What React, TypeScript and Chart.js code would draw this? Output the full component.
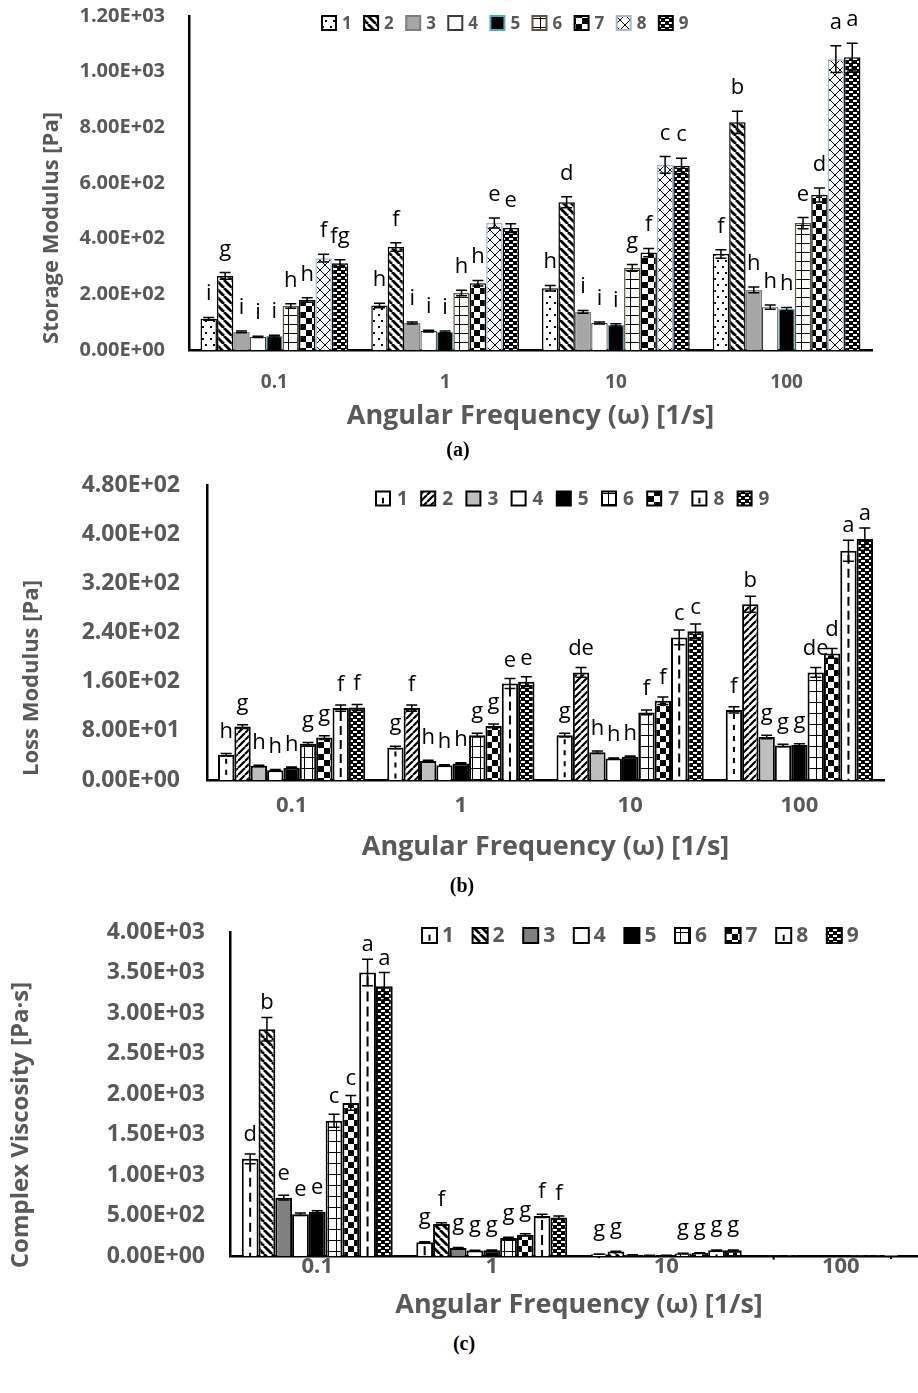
import React, { useEffect, useRef } from 'react';
import { Chart, registerables } from 'chart.js';

Chart.register(...registerables);
Chart.defaults.font.family = 'Open Sans';

// ---------- data ----------
const frequencies = ['0.1', '1', '10', '100'];
const seriesNames = ['1', '2', '3', '4', '5', '6', '7', '8', '9'];

const storageTickLabels = ['0.00E+00', '2.00E+02', '4.00E+02', '6.00E+02', '8.00E+02', '1.00E+03', '1.20E+03'];
const lossTickLabels = ['0.00E+00', '8.00E+01', '1.60E+02', '2.40E+02', '3.20E+02', '4.00E+02', '4.80E+02'];
const viscosityTickLabels = ['0.00E+00', '5.00E+02', '1.00E+03', '1.50E+03', '2.00E+03', '2.50E+03', '3.00E+03', '3.50E+03', '4.00E+03'];

// one row per sample 1..9, columns follow frequencies
const storageValues = [
  [112, 160, 222, 345],
  [266, 370, 531, 818],
  [65, 97, 137, 216],
  [47, 68, 97, 154],
  [50, 65, 90, 147],
  [158, 205, 295, 456],
  [180, 240, 350, 557],
  [330, 456, 665, 1045],
  [312, 438, 661, 1052],
];
const storageErrors = [
  [5, 8, 10, 15],
  [12, 15, 20, 40],
  [3, 4, 5, 10],
  [2, 3, 4, 8],
  [3, 3, 4, 6],
  [8, 10, 12, 20],
  [8, 10, 15, 25],
  [14, 18, 30, 48],
  [12, 16, 28, 50],
];
const storageLetters = [
  ['i', 'h', 'h', 'f'],
  ['g', 'f', 'd', 'b'],
  ['i', 'i', 'i', 'h'],
  ['i', 'i', 'i', 'h'],
  ['i', 'i', 'i', 'h'],
  ['h', 'h', 'g', 'e'],
  ['h', 'h', 'f', 'd'],
  ['f', 'e', 'c', 'a'],
  ['fg', 'e', 'c', 'a'],
];

const lossValues = [
  [41, 53, 73, 114],
  [87, 117, 175, 286],
  [23, 31, 45, 70],
  [16, 24, 35, 56],
  [20, 27, 38, 57],
  [59, 73, 110, 175],
  [69, 88, 129, 206],
  [117, 157, 232, 373],
  [118, 160, 242, 392],
];
const lossErrors = [
  [2, 2, 3, 5],
  [3, 5, 8, 13],
  [1, 1, 2, 3],
  [1, 1, 1, 2],
  [1, 1, 1, 2],
  [2, 3, 4, 8],
  [3, 3, 6, 8],
  [5, 8, 12, 17],
  [5, 8, 12, 18],
];
const lossLetters = [
  ['h', 'g', 'g', 'f'],
  ['g', 'f', 'de', 'b'],
  ['h', 'h', 'h', 'g'],
  ['h', 'h', 'h', 'g'],
  ['h', 'h', 'h', 'g'],
  ['g', 'g', 'f', 'de'],
  ['g', 'g', 'f', 'd'],
  ['f', 'e', 'c', 'a'],
  ['f', 'e', 'c', 'a'],
];

const viscosityValues = [
  [1200, 169, 23, 4],
  [2800, 395, 55, 9],
  [720, 100, 14, 2],
  [515, 68, 10, 2],
  [545, 72, 10, 2],
  [1670, 222, 31, 5],
  [1890, 262, 37, 6],
  [3500, 495, 70, 11],
  [3330, 475, 70, 11],
];
const viscosityErrors = [
  [60, 8, 1, 0],
  [145, 15, 3, 0],
  [30, 5, 1, 0],
  [15, 3, 0.5, 0],
  [15, 3, 0.5, 0],
  [80, 10, 2, 0],
  [90, 12, 2, 0],
  [165, 20, 4, 0],
  [170, 20, 4, 0],
];
const viscosityLetters = [
  ['d', 'g', 'g', ''],
  ['b', 'f', 'g', ''],
  ['e', 'g', '', ''],
  ['e', 'g', '', ''],
  ['e', 'g', '', ''],
  ['c', 'g', 'g', ''],
  ['c', 'g', 'g', ''],
  ['a', 'f', 'g', ''],
  ['a', 'f', 'g', ''],
];

// ---------- patterns ----------
function tile(w: number, h: number, draw: (g: CanvasRenderingContext2D) => void) {
  const c = document.createElement('canvas');
  c.width = w;
  c.height = h;
  const g = c.getContext('2d') as CanvasRenderingContext2D;
  draw(g);
  return c;
}

function makePatterns(ctx: CanvasRenderingContext2D) {
  const mk = (w: number, h: number, draw: (g: CanvasRenderingContext2D) => void) =>
    ctx.createPattern(tile(w, h, draw), 'repeat') as CanvasPattern;
  const bg = (g: CanvasRenderingContext2D, w: number, h: number, c: string) => {
    g.fillStyle = c;
    g.fillRect(0, 0, w, h);
  };
  return {
    dots: mk(8, 12, (g) => {
      bg(g, 8, 12, '#fff');
      g.fillStyle = '#000';
      g.fillRect(2, 2, 2, 2);
      g.fillRect(5, 8, 2, 2);
    }),
    diagDown: mk(8, 8, (g) => {
      bg(g, 8, 8, '#fff');
      g.strokeStyle = '#000';
      g.lineWidth = 2.8;
      g.beginPath();
      for (const o of [-8, 0, 8]) {
        g.moveTo(o, 0);
        g.lineTo(o + 8, 8);
      }
      g.stroke();
    }),
    diagUp: mk(7, 7, (g) => {
      bg(g, 7, 7, '#fff');
      g.strokeStyle = '#000';
      g.lineWidth = 2.2;
      g.beginPath();
      for (const o of [-7, 0, 7]) {
        g.moveTo(o, 7);
        g.lineTo(o + 7, 0);
      }
      g.stroke();
    }),
    gridA: mk(9, 9, (g) => {
      bg(g, 9, 9, '#fff');
      g.fillStyle = '#000';
      g.fillRect(0, 0, 9, 1);
      g.fillRect(0, 0, 1, 9);
    }),
    gridB: mk(8, 11, (g) => {
      bg(g, 8, 11, '#fff');
      g.fillStyle = '#000';
      g.fillRect(0, 0, 8, 1);
      g.fillRect(0, 0, 1, 11);
    }),
    checker: mk(12, 12, (g) => {
      bg(g, 12, 12, '#fff');
      g.fillStyle = '#000';
      g.fillRect(0, 0, 6, 6);
      g.fillRect(6, 6, 6, 6);
    }),
    cross: mk(10, 10, (g) => {
      bg(g, 10, 10, '#fff');
      g.strokeStyle = '#000';
      g.lineWidth = 1;
      g.beginPath();
      g.moveTo(0, 0);
      g.lineTo(10, 10);
      g.moveTo(0, 10);
      g.lineTo(10, 0);
      g.stroke();
    }),
    brick: mk(8, 6, (g) => {
      bg(g, 8, 6, '#000');
      g.fillStyle = '#fff';
      g.fillRect(1, 1, 4, 2);
      g.fillRect(5, 4, 3, 2);
      g.fillRect(0, 4, 1, 2);
    }),
  };
}

type Pats = ReturnType<typeof makePatterns>;
type Sty = { bg: any; border: string; bw: number; dash?: number[] };

// ---------- plugins ----------
const patternLegend = {
  id: 'patternLegend',
  afterDraw(chart: any, _a: any, o: any) {
    const ctx = chart.ctx as CanvasRenderingContext2D;
    ctx.save();
    chart.data.datasets.forEach((ds: any, i: number) => {
      const x = o.x + i * o.step;
      const top = o.y - o.box / 2;
      ctx.fillStyle = ds.backgroundColor;
      ctx.fillRect(x, top, o.box, o.box);
      if (ds.centerDash) {
        ctx.fillStyle = '#000';
        ctx.fillRect(x + o.box / 2 - 1, top + o.box * 0.45, 2, o.box * 0.4);
      }
      ctx.lineWidth = 2;
      ctx.strokeStyle = ds.borderColor;
      ctx.strokeRect(x, top, o.box, o.box);
      ctx.fillStyle = o.color;
      ctx.font = o.font;
      ctx.textAlign = 'left';
      ctx.textBaseline = 'middle';
      ctx.fillText(ds.label, x + o.box + o.gap, o.y + 1);
    });
    ctx.restore();
  },
};

const axisTitle = {
  id: 'axisTitle',
  afterDraw(chart: any, _a: any, o: any) {
    const ctx = chart.ctx as CanvasRenderingContext2D;
    ctx.save();
    ctx.translate(o.x, o.y);
    ctx.rotate(-Math.PI / 2);
    ctx.font = o.font;
    ctx.fillStyle = o.color;
    ctx.textAlign = 'center';
    ctx.textBaseline = 'middle';
    ctx.fillText(o.text, 0, 0);
    ctx.restore();
  },
};

const annotations = {
  id: 'annotations',
  afterDatasetsDraw(chart: any, _a: any, o: any) {
    const ctx = chart.ctx as CanvasRenderingContext2D;
    const ys = chart.scales.y;
    ctx.save();
    chart.data.datasets.forEach((ds: any, di: number) => {
      const meta = chart.getDatasetMeta(di);
      meta.data.forEach((bar: any, i: number) => {
        const v = ds.data[i];
        const x = bar.x;
        if (ds.centerDash) {
          const tp = ys.getPixelForValue(v);
          const base = ys.getPixelForValue(0);
          ctx.strokeStyle = '#000';
          ctx.lineWidth = 2;
          ctx.setLineDash(ds.centerDash);
          ctx.beginPath();
          ctx.moveTo(x, tp + 4);
          ctx.lineTo(x, base);
          ctx.stroke();
          ctx.setLineDash([]);
        }
      });
    });
    chart.data.datasets.forEach((ds: any, di: number) => {
      const meta = chart.getDatasetMeta(di);
      meta.data.forEach((bar: any, i: number) => {
        const v = ds.data[i];
        const e = ds.errors[i];
        const x = bar.x;
        const yBar = ys.getPixelForValue(v);
        const yT = ys.getPixelForValue(v + e);
        if (e > 0) {
          const yB = ys.getPixelForValue(Math.max(0, v - e));
          ctx.strokeStyle = '#000';
          ctx.lineWidth = o.lw;
          ctx.beginPath();
          ctx.moveTo(x, yT);
          ctx.lineTo(x, yB);
          ctx.moveTo(x - o.cap, yT);
          ctx.lineTo(x + o.cap, yT);
          ctx.moveTo(x - o.cap, yB);
          ctx.lineTo(x + o.cap, yB);
          ctx.stroke();
        }
        const letter = ds.letters[i];
        if (letter) {
          ctx.fillStyle = '#000';
          ctx.font = o.font;
          ctx.textAlign = 'center';
          ctx.textBaseline = 'alphabetic';
          ctx.fillText(letter, x, Math.min(yBar - o.barGap, yT - o.errGap));
        }
      });
    });
    ctx.restore();
  },
};

// ---------- panels ----------
const GREY = '#595959';

type Spec = {
  top: number; w: number; h: number;
  pad: { left: number; top: number; right: number; bottom: number };
  yW: number; xH: number;
  max: number; step: number; tickLabels: string[];
  values: number[][]; errors: number[][]; letters: string[][];
  yTick: number; yTickPad: number;
  xTick: number; xTickPad: number; xTickLH: number;
  xTitle: number; xTitlePad: number;
  yTitle: { text: string; x: number; y: number; size: number };
  legend: { x: number; y: number; step: number; box: number; size: number; gap: number };
  catPct: number; axisW: number; barGap: number; errGap: number;
  styles: (p: Pats) => Sty[];
};

const specs: Spec[] = [
  {
    top: 0, w: 918, h: 440,
    pad: { left: 0, top: 16, right: 46, bottom: 0 },
    yW: 189, xH: 90,
    max: 1200, step: 200, tickLabels: storageTickLabels,
    values: storageValues, errors: storageErrors, letters: storageLetters,
    yTick: 20, yTickPad: 24,
    xTick: 19, xTickPad: 21, xTickLH: 1.2,
    xTitle: 27, xTitlePad: 7,
    yTitle: { text: 'Storage Modulus [Pa]', x: 52, y: 228, size: 22 },
    legend: { x: 322, y: 23, step: 42.1, box: 14, size: 17, gap: 6 },
    catPct: 0.865, axisW: 2.5, barGap: 18, errGap: 17,
    styles: (p) => [
      { bg: p.dots, border: '#000', bw: 1.5 },
      { bg: p.diagDown, border: '#000', bw: 1.5 },
      { bg: '#a6a6a6', border: '#7f7f7f', bw: 1.5 },
      { bg: '#ffffff', border: '#3a3a3a', bw: 1.2 },
      { bg: '#000000', border: '#4bacc6', bw: 1.2 },
      { bg: p.gridA, border: '#5b573a', bw: 1.5 },
      { bg: p.checker, border: '#000', bw: 1.5 },
      { bg: p.cross, border: '#a3b8d4', bw: 1.5 },
      { bg: p.brick, border: '#000', bw: 1.5 },
    ],
  },
  {
    top: 460, w: 918, h: 420,
    pad: { left: 0, top: 25, right: 34, bottom: 0 },
    yW: 207, xH: 100,
    max: 480, step: 80, tickLabels: lossTickLabels,
    values: lossValues, errors: lossErrors, letters: lossLetters,
    yTick: 23, yTickPad: 27,
    xTick: 22, xTickPad: 13, xTickLH: 1.2,
    xTitle: 27, xTitlePad: 16,
    yTitle: { text: 'Loss Modulus [Pa]', x: 32, y: 218, size: 22 },
    legend: { x: 376, y: 38.5, step: 45.2, box: 14, size: 19, gap: 7 },
    catPct: 0.87, axisW: 2.5, barGap: 17, errGap: 8,
    styles: (p) => [
      { bg: '#ffffff', border: '#000', bw: 2, dash: [5, 6] },
      { bg: p.diagUp, border: '#000', bw: 2 },
      { bg: '#bfbfbf', border: '#000', bw: 2 },
      { bg: '#ffffff', border: '#000', bw: 2 },
      { bg: '#000000', border: '#000', bw: 2 },
      { bg: p.gridB, border: '#000', bw: 2 },
      { bg: p.checker, border: '#000', bw: 2 },
      { bg: '#ffffff', border: '#000', bw: 2, dash: [9, 5] },
      { bg: p.brick, border: '#000', bw: 2 },
    ],
  },
  {
    top: 910, w: 950, h: 420,
    pad: { left: 0, top: 22, right: 22, bottom: 0 },
    yW: 230, xH: 74,
    max: 4000, step: 500, tickLabels: viscosityTickLabels,
    values: viscosityValues, errors: viscosityErrors, letters: viscosityLetters,
    yTick: 23, yTickPad: 25,
    xTick: 22, xTickPad: 0, xTickLH: 1,
    xTitle: 27, xTitlePad: 8,
    yTitle: { text: 'Complex Viscosity [Pa·s]', x: 21, y: 215, size: 24 },
    legend: { x: 422, y: 25.5, step: 50.6, box: 15, size: 21, gap: 5 },
    catPct: 0.865, axisW: 2.5, barGap: 18, errGap: 8,
    styles: (p) => [
      { bg: '#ffffff', border: '#000', bw: 2, dash: [9, 6] },
      { bg: p.diagDown, border: '#000', bw: 2 },
      { bg: '#808080', border: '#000', bw: 2 },
      { bg: '#ffffff', border: '#000', bw: 2 },
      { bg: '#000000', border: '#000', bw: 2 },
      { bg: p.gridB, border: '#000', bw: 2 },
      { bg: p.checker, border: '#000', bw: 2 },
      { bg: '#ffffff', border: '#000', bw: 2, dash: [10, 5] },
      { bg: p.brick, border: '#000', bw: 2 },
    ],
  },
];

function buildConfig(s: Spec, styles: Sty[]): any {
  return {
    type: 'bar',
    data: {
      labels: frequencies,
      datasets: seriesNames.map((name, i) => ({
        label: name,
        data: s.values[i],
        errors: s.errors[i],
        letters: s.letters[i],
        centerDash: styles[i].dash,
        backgroundColor: styles[i].bg,
        borderColor: styles[i].border,
        borderWidth: styles[i].bw,
        categoryPercentage: s.catPct,
        barPercentage: 1,
      })),
    },
    options: {
      animation: false,
      responsive: false,
      events: [],
      layout: { padding: s.pad },
      plugins: {
        legend: { display: false },
        tooltip: { enabled: false },
        patternLegend: {
          x: s.legend.x, y: s.legend.y, step: s.legend.step, box: s.legend.box, gap: s.legend.gap,
          font: `bold ${s.legend.size}px "Open Sans"`, color: GREY,
        },
        axisTitle: {
          text: s.yTitle.text, x: s.yTitle.x, y: s.yTitle.y,
          font: `bold ${s.yTitle.size}px "Open Sans"`, color: GREY,
        },
        annotations: { lw: 1.5, cap: 5.5, barGap: s.barGap, errGap: s.errGap, font: '22px "Open Sans"' },
      },
      scales: {
        x: {
          grid: { display: false, drawTicks: false },
          border: { display: true, color: '#000', width: s.axisW },
          ticks: {
            autoSkip: false, maxRotation: 0, color: GREY, padding: s.xTickPad,
            font: { family: 'Open Sans', weight: 'bold', size: s.xTick, lineHeight: s.xTickLH },
          },
          title: {
            display: true, text: 'Angular Frequency (ω) [1/s]', color: GREY,
            font: { family: 'Open Sans', weight: 'bold', size: s.xTitle, lineHeight: 1.2 },
            padding: { top: 0, bottom: s.xTitlePad },
          },
          afterFit: (sc: any) => {
            sc.height = s.xH;
            sc.paddingLeft = 0;
            sc.paddingRight = 0;
          },
        },
        y: {
          min: 0, max: s.max,
          grid: { display: false, drawTicks: false },
          border: { display: true, color: '#000', width: s.axisW },
          ticks: {
            stepSize: s.step, color: GREY, padding: s.yTickPad,
            font: { family: 'Open Sans', weight: 'bold', size: s.yTick },
            callback: (v: number) => s.tickLabels[Math.round(v / s.step)] ?? '',
          },
          afterFit: (sc: any) => {
            sc.width = s.yW;
            sc.paddingTop = 0;
            sc.paddingBottom = 0;
          },
        },
      },
    },
    plugins: [annotations, axisTitle, patternLegend],
  };
}

function Panel({ spec }: { spec: Spec }) {
  const ref = useRef<HTMLCanvasElement>(null);
  useEffect(() => {
    const canvas = ref.current as HTMLCanvasElement;
    const ctx = canvas.getContext('2d') as CanvasRenderingContext2D;
    const pats = makePatterns(ctx);
    const chart = new Chart(ctx, buildConfig(spec, spec.styles(pats)));
    return () => chart.destroy();
  }, []);
  return (
    <canvas
      ref={ref}
      width={spec.w}
      height={spec.h}
      style={{ position: 'absolute', left: 0, top: spec.top, width: spec.w, height: spec.h }}
    />
  );
}

const captions = [
  { text: '(a)', x: 458, y: 449 },
  { text: '(b)', x: 462, y: 885 },
  { text: '(c)', x: 464, y: 1343 },
];

export default function App() {
  return (
    <div
      style={{
        position: 'absolute', left: 0, top: 0, width: 918, height: 1393,
        overflow: 'hidden', background: '#fff',
      }}
    >
      {specs.map((s, i) => (
        <Panel key={i} spec={s} />
      ))}
      {captions.map((c) => (
        <div
          key={c.text}
          style={{
            position: 'absolute', left: c.x, top: c.y, transform: 'translate(-50%, -50%)',
            font: 'bold 20px "Liberation Serif"', color: '#000', lineHeight: '1', whiteSpace: 'nowrap',
          }}
        >
          {c.text}
        </div>
      ))}
    </div>
  );
}
